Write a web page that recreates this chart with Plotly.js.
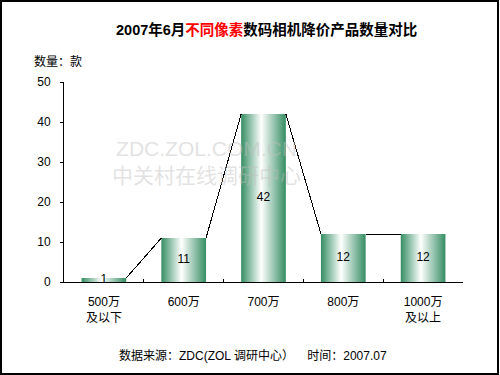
<!DOCTYPE html>
<html>
<head>
<meta charset="utf-8">
<script src="https://cdn.plot.ly/plotly-3.0.1.min.js"></script>
<style>
html,body{margin:0;padding:0;background:#fff;}
#wrap{position:relative;width:500px;height:375px;}
#chart{position:absolute;left:0;top:0;width:500px;height:375px;}
#frame{position:absolute;left:0;top:0;width:495px;height:371px;border:2px solid #000;pointer-events:none;}
</style>
</head>
<body>
<div id="wrap"><div id="chart"></div><div id="frame"></div></div>
<script>
// Data
var categories = ["500万<br>及以下", "600万", "700万", "800万", "1000万<br>及以上"];
var counts = [1, 11, 42, 12, 12];
var yTicks = [0, 10, 20, 30, 40, 50];

var FONT = '"Liberation Sans", Arial, "Noto Sans CJK SC", sans-serif';
var barWidth = 0.56;
var hw = barWidth / 2;

// series lines between bars
var lx = [], ly = [];
for (var i = 0; i < counts.length - 1; i++) {
  lx.push(i + hw, i + 1 - hw, null);
  ly.push(counts[i], counts[i + 1], null);
}
var idx = counts.map(function(_, i){ return i; });
var mid = counts.map(function(v){ return v / 2; });

var traces = [
  {
    type: 'bar', x: categories, y: counts, width: barWidth,
    marker: {color: '#3a9268', line: {width: 0}},
    hoverinfo: 'none', showlegend: false
  },
  {
    type: 'scatter', mode: 'lines', x: lx, y: ly, xaxis: 'x2', yaxis: 'y',
    line: {color: '#000', width: 1}, connectgaps: false,
    hoverinfo: 'none', showlegend: false
  },
  {
    type: 'scatter', mode: 'text', x: idx, y: mid, xaxis: 'x2', yaxis: 'y',
    text: counts.map(String), textposition: 'middle center',
    textfont: {family: FONT, size: 12, color: '#000'},
    hoverinfo: 'none', showlegend: false
  }
];

var layout = {
  width: 500, height: 375,
  margin: {l: 64, r: 37, t: 82, b: 93, pad: 0},
  paper_bgcolor: '#fff', plot_bgcolor: '#fff',
  font: {family: FONT, size: 12, color: '#000'},
  showlegend: false,
  bargap: 0.44,
  xaxis: {
    type: 'category', showline: true, linecolor: '#000', linewidth: 1,
    ticks: 'inside', ticklen: 3, tickcolor: '#000', tickson: 'boundaries',
    showgrid: false, zeroline: false, fixedrange: true, ticklabelstandoff: 9,
    tickfont: {family: FONT, size: 12, color: '#000'},
    range: [-0.5, categories.length - 0.5]
  },
  xaxis2: {
    overlaying: 'x', range: [-0.5, categories.length - 0.5], visible: false, fixedrange: true
  },
  yaxis: {
    range: [0, 50], tickvals: yTicks, showline: true, linecolor: '#000', linewidth: 1,
    ticks: 'outside', ticklen: 3, tickcolor: '#000', ticklabelstandoff: 7,
    showgrid: false, zeroline: false, fixedrange: true,
    tickfont: {family: FONT, size: 12, color: '#000'}
  },
  annotations: [
    {
      text: '<b>2007年6月<span style="color:#ff0000">不同像素</span>数码相机降价产品数量对比</b>',
      xref: 'paper', yref: 'paper', x: (266 - 64) / 399, y: (282 - 29) / 200,
      xanchor: 'center', yanchor: 'middle', showarrow: false,
      font: {family: FONT, size: 14.5, color: '#000'}
    },
    {
      text: '数量：款', xref: 'paper', yref: 'paper',
      x: (32 - 64) / 399, y: (282 - 62) / 200, xanchor: 'left', yanchor: 'middle',
      showarrow: false, font: {family: FONT, size: 12, color: '#000'}
    },
    {
      text: 'ZDC.ZOL.COM.CN<br>中关村在线调研中心', xref: 'paper', yref: 'paper',
      x: (206 - 64) / 399, y: (282 - 162) / 200, xanchor: 'center', yanchor: 'middle',
      showarrow: false, font: {family: FONT, size: 21, color: 'rgba(190,190,190,0.45)'}
    },
    {
      text: '数据来源：ZDC(ZOL 调研中心）&nbsp;&nbsp;&nbsp;&nbsp;时间：2007.07',
      xref: 'paper', yref: 'paper', x: (253 - 64) / 399, y: (282 - 355) / 200,
      xanchor: 'center', yanchor: 'middle', showarrow: false,
      font: {family: FONT, size: 12, color: '#000'}
    }
  ]
};

Plotly.newPlot('chart', traces, layout, {displayModeBar: false, staticPlot: true}).then(function(gd){
  var svg = gd.querySelector('svg.main-svg');
  var ns = 'http://www.w3.org/2000/svg';
  var defs = svg.querySelector('defs') || svg.insertBefore(document.createElementNS(ns, 'defs'), svg.firstChild);
  var g = document.createElementNS(ns, 'linearGradient');
  g.setAttribute('id', 'barGrad');
  g.setAttribute('x1', '0'); g.setAttribute('y1', '0');
  g.setAttribute('x2', '1'); g.setAttribute('y2', '0');
  [['0', '#358e63'], ['0.45', '#ffffff'], ['1', '#358e63']].forEach(function(s){
    var st = document.createElementNS(ns, 'stop');
    st.setAttribute('offset', s[0]); st.setAttribute('stop-color', s[1]);
    g.appendChild(st);
  });
  defs.appendChild(g);
  gd.querySelectorAll('.barlayer .point path').forEach(function(p){
    p.style.fill = 'url(#barGrad)';
  });
  gd.querySelectorAll('.scatterlayer .js-line').forEach(function(p){
    p.style.shapeRendering = 'crispEdges';
  });
});
</script>
</body>
</html>
